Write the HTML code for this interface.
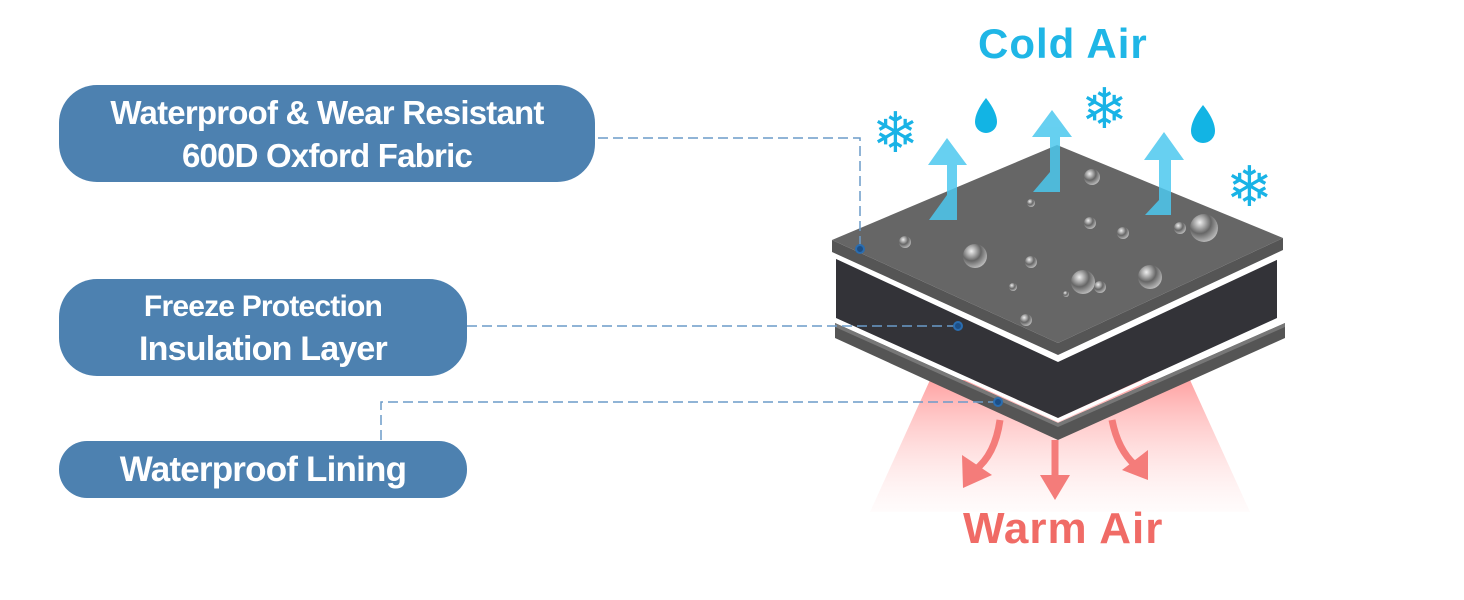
<!DOCTYPE html>
<html><head><meta charset="utf-8"><style>
html,body{margin:0;padding:0;background:#fff;}
body{width:1464px;height:600px;position:relative;overflow:hidden;font-family:"Liberation Sans","DejaVu Sans",sans-serif;}
.pill{position:absolute;background:#4d81b0;color:#fff;font-weight:bold;text-align:center;border-radius:38px;display:flex;align-items:center;justify-content:center;flex-direction:column;letter-spacing:-0.8px;}
.t{position:absolute;font-weight:bold;font-size:42px;letter-spacing:1px;}
</style></head><body>
<div class="pill" style="left:59px;top:85px;width:536px;height:97px;font-size:33px;line-height:43px;">Waterproof &amp; Wear Resistant<br>600D Oxford Fabric</div>
<div class="pill" style="left:59px;top:279px;width:408px;height:97px;font-size:30px;line-height:43px;">Freeze Protection<br><span style="font-size:34px">Insulation Layer</span></div>
<div class="pill" style="left:59px;top:441px;width:408px;height:57px;font-size:35px;border-radius:28px;">Waterproof Lining</div>
<div class="t" style="left:978px;top:20px;color:#1fb6e6;">Cold Air</div>
<div class="t" style="left:963px;top:504px;color:#f06b66;font-size:44px;">Warm Air</div>
<svg width="1464" height="600" style="position:absolute;left:0;top:0">
<defs>
<linearGradient id="pk" x1="0" y1="0" x2="0" y2="1"><stop offset="0" stop-color="#f99" stop-opacity=".9"/><stop offset="1" stop-color="#fdd" stop-opacity=".1"/></linearGradient>
<radialGradient id="dr" cx=".35" cy=".3" r=".8"><stop offset="0" stop-color="#eee"/><stop offset=".5" stop-color="#666"/><stop offset="1" stop-color="#ccc"/></radialGradient>
</defs>
<polygon points="930,380 1190,380 1250,512 870,512" fill="url(#pk)"/>
<g fill="none" stroke="#f47c7a" stroke-width="7">
<path d="M1000,420 Q995,455 975,470"/><path d="M1055,440 L1055,478"/><path d="M1112,420 Q1118,450 1135,465"/></g>
<g fill="#f47c7a"><polygon points="962,455 992,475 963,488"/><polygon points="1040,475 1070,475 1055,500"/><polygon points="1148,450 1148,480 1122,470"/></g>
<polygon points="835,323 1058,423 1285,323 1285,338 1058,440 835,338" fill="#555"/>
<polygon points="835,323 1058,423 1285,323 1285,327 1058,427 835,327" fill="#777"/>
<polygon points="836,318 1058,418 1280,318 1280,322 1058,422 836,322" fill="#fff"/>
<polygon points="836,256 1058,358 1277,256 1277,318 1058,418 836,318" fill="#333338"/>
<polygon points="834,252 1058,355 1281,252 1281,258 1058,362 834,258" fill="#fff"/>
<polygon points="832,240 1058,343 1283,238 1283,250 1058,355 832,252" fill="#555"/>
<polygon points="832,240 1057,145 1283,238 1058,343" fill="#666"/>
<g fill="url(#dr)">
<circle cx="905" cy="242" r="6"/><circle cx="975" cy="256" r="12"/><circle cx="1031" cy="262" r="6"/><circle cx="1092" cy="177" r="8"/><circle cx="1031" cy="203" r="4"/><circle cx="1090" cy="223" r="6"/><circle cx="1123" cy="233" r="6"/><circle cx="1204" cy="228" r="14"/><circle cx="1180" cy="228" r="6"/><circle cx="1013" cy="287" r="4"/><circle cx="1083" cy="282" r="12"/><circle cx="1100" cy="287" r="6"/><circle cx="1150" cy="277" r="12"/><circle cx="1026" cy="320" r="6"/><circle cx="1066" cy="294" r="3"/></g>
<g fill="#4cc8ee" opacity=".85">
<path d="M929,220 L947,195 L947,165 L928,165 L947,138 L967,165 L957,165 L957,220 Z"/>
<path d="M1033,192 L1050,172 L1050,137 L1032,137 L1052,110 L1072,137 L1060,137 L1060,192 Z"/>
<path d="M1145,215 L1159,200 L1159,160 L1144,160 L1164,132 L1184,160 L1171,160 L1171,215 Z"/></g>
<g fill="#12b4e4">
<path d="M986,98 Q975,112 975,122 A11,11 0 0 0 997,122 Q997,112 986,98Z"/>
<path d="M1203,105 Q1191,120 1191,131 A12,12 0 0 0 1215,131 Q1215,120 1203,105Z"/></g>
<g fill="#19b3e6" font-size="56" font-family="DejaVu Sans">
<text x="872" y="152">❄</text><text x="1081" y="128">❄</text><text x="1226" y="206">❄</text></g>
<g fill="none" stroke="#6b9bc9" stroke-width="1.5" stroke-dasharray="10,5">
<path d="M598,138 H860 V248"/><path d="M467,326 H958"/><path d="M381,440 V402 H998"/></g>
<g fill="#1d4f86" stroke="#2a6db0" stroke-width="2">
<circle cx="860" cy="249" r="4"/><circle cx="958" cy="326" r="4"/><circle cx="998" cy="402" r="4"/></g>
</svg>
</body></html>
